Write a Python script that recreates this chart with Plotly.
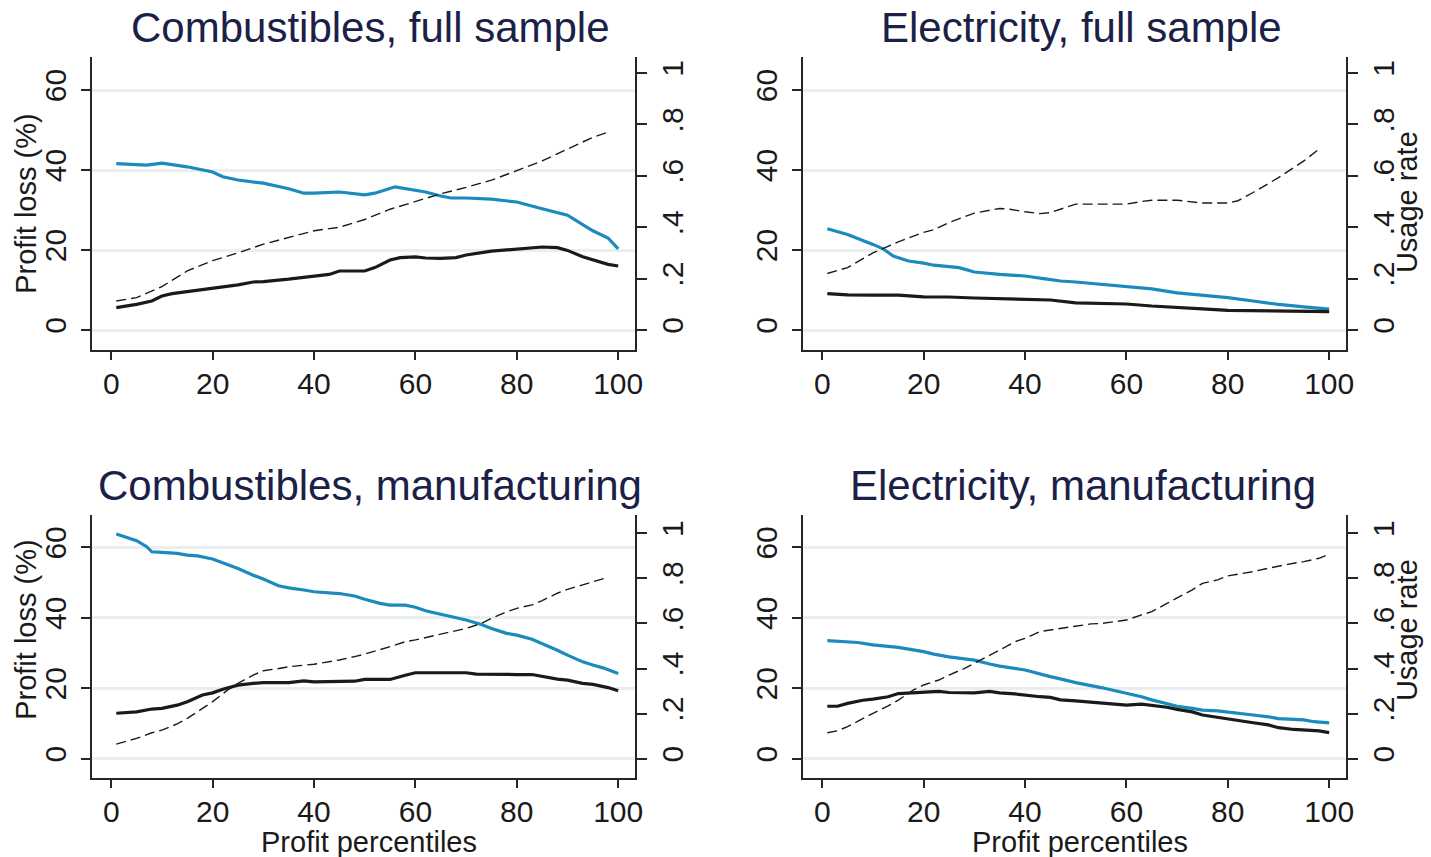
import plotly.graph_objects as go

W, H = 1431, 857

# ---- data: profit loss (%) and usage rate by profit percentile ----
titles = ["Combustibles, full sample", "Electricity, full sample",
          "Combustibles, manufacturing", "Electricity, manufacturing"]

# Combustibles, full sample
tl_blue_x = [1, 7, 10, 15, 20, 22, 25, 30, 35, 38, 40, 45, 50, 52, 56, 60, 62, 65, 67, 70, 75, 80, 82, 85, 90, 93, 95, 98, 100]
tl_blue = [41.6, 41.2, 41.7, 40.8, 39.5, 38.3, 37.5, 36.7, 35.3, 34.2, 34.2, 34.5, 33.8, 34.2, 35.8, 35.0, 34.5, 33.5, 33.0, 33.0, 32.7, 32.0, 31.4, 30.3, 28.7, 26.4, 24.8, 23.0, 20.3]
tl_black_x = [1, 5, 8, 10, 12, 15, 20, 25, 28, 30, 35, 40, 43, 45, 50, 52, 55, 57, 60, 62, 65, 68, 70, 75, 80, 85, 88, 90, 93, 95, 98, 100]
tl_black = [5.6, 6.4, 7.25, 8.5, 9.1, 9.6, 10.6, 11.3, 12.0, 12.1, 12.7, 13.4, 13.9, 14.75, 14.75, 15.6, 17.5, 18.1, 18.3, 18.0, 17.9, 18.1, 18.75, 19.7, 20.3, 20.75, 20.6, 19.9, 18.3, 17.5, 16.4, 16.0]
tl_use_x = [1, 5, 10, 15, 20, 25, 30, 35, 40, 45, 50, 55, 60, 65, 70, 75, 80, 85, 90, 95, 98]
tl_use = [0.113, 0.126, 0.169, 0.23, 0.27, 0.30, 0.334, 0.36, 0.386, 0.40, 0.43, 0.47, 0.50, 0.53, 0.555, 0.583, 0.62, 0.658, 0.704, 0.75, 0.77]

# Electricity, full sample
tr_blue_x = [1, 5, 10, 12, 14, 17, 20, 22, 27, 30, 35, 40, 44, 47, 50, 55, 60, 65, 70, 75, 80, 85, 90, 95, 100]
tr_blue = [25.3, 23.9, 21.4, 20.3, 18.5, 17.25, 16.7, 16.2, 15.6, 14.5, 13.9, 13.5, 12.8, 12.25, 12.0, 11.4, 11.0, 10.3, 9.3, 8.7, 8.1, 7.25, 6.4, 5.8, 5.2]
tr_black_x = [1, 5, 10, 15, 20, 25, 30, 35, 40, 45, 50, 55, 60, 65, 70, 75, 80, 85, 90, 95, 100]
tr_black = [9.1, 8.8, 8.7, 8.7, 8.3, 8.25, 8.0, 7.8, 7.5, 7.5, 6.8, 6.7, 6.5, 6.0, 5.75, 5.3, 4.9, 4.8, 4.6, 4.6, 4.6]
tr_use_x = [1, 5, 10, 15, 20, 22, 25, 30, 35, 37, 40, 43, 45, 48, 50, 55, 60, 63, 65, 70, 73, 75, 80, 82, 85, 88, 90, 93, 95, 98]
tr_use = [0.22, 0.243, 0.30, 0.343, 0.38, 0.39, 0.418, 0.455, 0.473, 0.47, 0.46, 0.453, 0.457, 0.477, 0.49, 0.49, 0.49, 0.50, 0.505, 0.505, 0.50, 0.494, 0.494, 0.503, 0.535, 0.568, 0.593, 0.632, 0.658, 0.704]

# Combustibles, manufacturing
bl_blue_x = [1, 3, 5, 7, 8, 10, 13, 15, 17, 20, 22, 25, 28, 30, 33, 35, 38, 40, 45, 48, 50, 53, 55, 58, 60, 62, 65, 68, 70, 73, 75, 78, 80, 83, 85, 88, 90, 93, 95, 97, 100]
bl_blue = [63.8, 62.8, 61.9, 60.2, 58.75, 58.6, 58.3, 57.8, 57.6, 56.7, 55.7, 54.0, 52.1, 51.0, 49.1, 48.5, 47.9, 47.4, 46.9, 46.2, 45.3, 44.1, 43.6, 43.6, 43.0, 42.0, 41.0, 40.1, 39.4, 38.1, 37.0, 35.6, 35.1, 33.9, 32.7, 30.8, 29.4, 27.5, 26.6, 25.8, 24.2]
bl_black_x = [1, 5, 8, 10, 13, 15, 18, 20, 22, 25, 28, 30, 35, 38, 40, 45, 48, 50, 55, 58, 60, 65, 70, 72, 75, 80, 83, 85, 88, 90, 93, 95, 98, 100]
bl_black = [12.9, 13.3, 14.1, 14.3, 15.2, 16.2, 18.1, 18.7, 19.7, 20.9, 21.4, 21.6, 21.6, 22.1, 21.8, 21.8, 22.0, 22.5, 22.5, 23.7, 24.4, 24.4, 24.4, 24.0, 23.9, 23.9, 23.9, 23.3, 22.6, 22.3, 21.4, 21.1, 20.2, 19.3]
bl_use_x = [1, 5, 8, 10, 13, 15, 18, 20, 23, 25, 28, 30, 33, 35, 40, 45, 48, 50, 55, 58, 60, 65, 70, 73, 75, 78, 80, 83, 85, 88, 90, 93, 95, 98]
bl_use = [0.065, 0.09, 0.115, 0.127, 0.154, 0.179, 0.223, 0.253, 0.305, 0.334, 0.371, 0.39, 0.40, 0.408, 0.419, 0.438, 0.453, 0.464, 0.497, 0.519, 0.527, 0.552, 0.578, 0.60, 0.623, 0.652, 0.667, 0.682, 0.701, 0.734, 0.751, 0.771, 0.786, 0.805]

# Electricity, manufacturing
br_blue_x = [1, 5, 7, 10, 15, 20, 22, 25, 30, 33, 35, 40, 43, 45, 48, 50, 55, 58, 60, 63, 65, 68, 70, 73, 75, 78, 80, 83, 85, 88, 90, 95, 97, 100]
br_blue = [33.5, 33.1, 33.0, 32.3, 31.6, 30.4, 29.7, 28.9, 28.0, 26.9, 26.3, 25.2, 24.0, 23.3, 22.3, 21.6, 20.2, 19.3, 18.7, 17.6, 16.7, 15.5, 14.9, 14.3, 13.8, 13.6, 13.3, 12.9, 12.4, 11.9, 11.4, 11.0, 10.5, 10.2]
br_black_x = [1, 3, 5, 8, 10, 13, 15, 18, 20, 23, 25, 28, 30, 33, 35, 38, 40, 43, 45, 47, 50, 55, 60, 63, 65, 68, 70, 73, 75, 78, 80, 83, 85, 88, 90, 93, 95, 98, 100]
br_black = [14.9, 14.9, 15.7, 16.6, 16.9, 17.6, 18.5, 18.7, 18.7, 19.1, 18.8, 18.7, 18.7, 19.1, 18.7, 18.4, 18.0, 17.6, 17.4, 16.7, 16.4, 15.9, 15.2, 15.5, 15.2, 14.6, 14.0, 13.3, 12.4, 11.7, 11.4, 10.7, 10.2, 9.6, 8.8, 8.3, 8.1, 7.9, 7.4]
br_use_x = [1, 3, 5, 8, 10, 13, 15, 18, 20, 23, 25, 28, 30, 33, 35, 38, 40, 43, 45, 48, 50, 53, 55, 58, 60, 63, 65, 68, 70, 73, 75, 78, 80, 83, 85, 88, 90, 93, 95, 98, 100]
br_use = [0.115, 0.124, 0.142, 0.179, 0.201, 0.234, 0.26, 0.305, 0.327, 0.349, 0.371, 0.40, 0.423, 0.46, 0.482, 0.519, 0.534, 0.564, 0.571, 0.583, 0.589, 0.598, 0.60, 0.608, 0.615, 0.638, 0.652, 0.689, 0.712, 0.749, 0.778, 0.793, 0.811, 0.822, 0.83, 0.845, 0.855, 0.867, 0.874, 0.889, 0.908]

x_ticks = [0, 20, 40, 60, 80, 100]
loss_ticks = [0, 20, 40, 60]
use_ticks = [0, 0.2, 0.4, 0.6, 0.8, 1]
use_labels = ["0", ".2", ".4", ".6", ".8", "1"]

panels = [
    (tl_blue_x, tl_blue, tl_black_x, tl_black, tl_use_x, tl_use),
    (tr_blue_x, tr_blue, tr_black_x, tr_black, tr_use_x, tr_use),
    (bl_blue_x, bl_blue, bl_black_x, bl_black, bl_use_x, bl_use),
    (br_blue_x, br_blue, br_black_x, br_black, br_use_x, br_use),
]

# ---- styling ----
FONT = "Arial, Liberation Sans, sans-serif"
BLUE = "#1b8abd"
BLACK = "#1a1a1a"
NAVY = "#1b2146"
GRID = "#e9eff0"
AXIS = "#262626"

# plot-area boxes in pixels: (left, right, top, bottom)
boxes = [(93, 639, 57, 350), (808, 1354, 57, 350),
         (93, 639, 515, 778), (808, 1354, 515, 778)]
loss_ranges = [[-5, 68.25], [-5, 68.25], [-5.48, 69.2], [-5.48, 69.2]]
use_ranges = [[-0.0778, 1.0623], [-0.0778, 1.0623], [-0.0856, 1.081], [-0.0856, 1.081]]
x_range = [-3.7, 103.4]


def px_x(p):
    return p / W


def px_y(p):
    return 1 - p / H


fig = go.Figure()
layout = {}
tick_font = dict(family=FONT, size=30, color=BLACK)

for i, (bx, bv, kx, kv, ux, uv) in enumerate(panels):
    l, r, t, b = boxes[i]
    xa = f"x{i + 1}" if i else "x"
    ya_l = f"y{2 * i + 1}" if i else "y"
    ya_r = f"y{2 * i + 2}"
    xkey = f"xaxis{i + 1}" if i else "xaxis"
    ylkey = f"yaxis{2 * i + 1}" if i else "yaxis"
    yrkey = f"yaxis{2 * i + 2}"

    layout[xkey] = dict(
        domain=[px_x(l), px_x(r)], anchor=ya_l, range=x_range,
        tickvals=x_ticks, ticks="outside", ticklen=8, tickwidth=1.5,
        tickcolor=AXIS, showline=True, linecolor=AXIS, linewidth=1.5,
        showgrid=False, zeroline=False, tickfont=tick_font,
        ticklabelstandoff=-2,
    )
    layout[ylkey] = dict(
        domain=[px_y(b), px_y(t)], anchor=xa, range=loss_ranges[i],
        tickvals=loss_ticks, tickangle=-90, ticks="outside", ticklen=10,
        tickwidth=1.5, tickcolor=AXIS, showline=True, linecolor=AXIS,
        linewidth=1.5, showgrid=True, gridcolor=GRID, gridwidth=2.5,
        zeroline=False, tickfont=tick_font, ticklabelstandoff=3,
    )
    layout[yrkey] = dict(
        domain=[px_y(b), px_y(t)], anchor=xa, overlaying=ya_l, side="right",
        range=use_ranges[i], tickvals=use_ticks, ticktext=use_labels,
        tickangle=-90, ticks="outside", ticklen=10, tickwidth=1.5,
        tickcolor=AXIS, showline=True, linecolor=AXIS, linewidth=1.5,
        showgrid=False, zeroline=False, tickfont=tick_font,
        ticklabelstandoff=0,
    )

    fig.add_trace(go.Scatter(x=bx, y=bv, xaxis=xa, yaxis=ya_l, mode="lines",
                             line=dict(color=BLUE, width=3.2), showlegend=False))
    fig.add_trace(go.Scatter(x=kx, y=kv, xaxis=xa, yaxis=ya_l, mode="lines",
                             line=dict(color=BLACK, width=3.2), showlegend=False))
    fig.add_trace(go.Scatter(x=ux, y=uv, xaxis=xa, yaxis=ya_r, mode="lines",
                             line=dict(color=BLACK, width=1.4, dash="10px,5px"),
                             showlegend=False))

annotations = []
title_pos = [(373, 27), (1088, 27), (372, 485), (1089, 485)]
for txt, (cx, cy) in zip(titles, title_pos):
    annotations.append(dict(text=txt, x=px_x(cx), y=px_y(cy), xref="paper",
                            yref="paper", showarrow=False, xanchor="center",
                            yanchor="middle",
                            font=dict(family=FONT, size=42, color=NAVY)))

axis_title_font = dict(family=FONT, size=29, color=BLACK)
for cy in (204, 630):
    annotations.append(dict(text="Profit loss (%)", x=px_x(26), y=px_y(cy),
                            xref="paper", yref="paper", showarrow=False,
                            textangle=-90, xanchor="center", yanchor="middle",
                            font=axis_title_font))
for cy in (202, 630):
    annotations.append(dict(text="Usage rate", x=px_x(1415), y=px_y(cy),
                            xref="paper", yref="paper", showarrow=False,
                            textangle=-90, xanchor="center", yanchor="middle",
                            font=axis_title_font))
for cx in (371, 1086):
    annotations.append(dict(text="Profit percentiles", x=px_x(cx), y=px_y(842),
                            xref="paper", yref="paper", showarrow=False,
                            xanchor="center", yanchor="middle",
                            font=axis_title_font))

fig.update_layout(
    width=W, height=H, margin=dict(l=0, r=0, t=0, b=0),
    paper_bgcolor="white", plot_bgcolor="white",
    annotations=annotations, **layout,
)

fig.write_html("out.html")
